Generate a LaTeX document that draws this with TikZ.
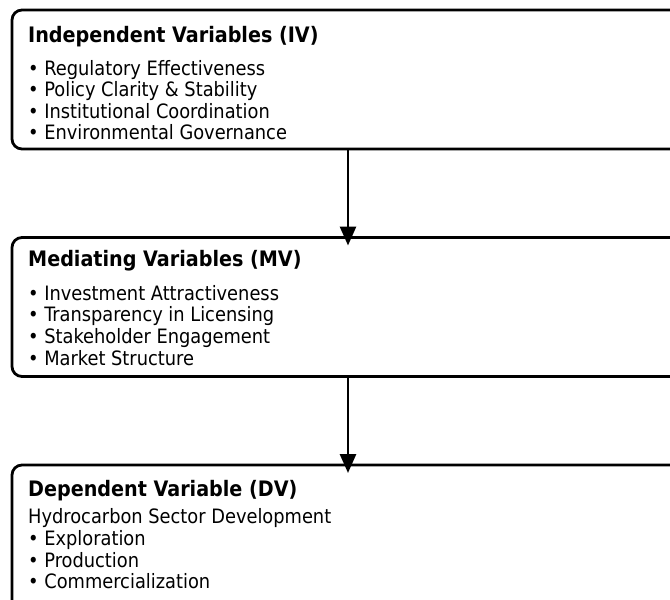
\documentclass[tikz,border=0pt]{standalone}
\usepackage{fontspec}
\setmainfont{DejaVu Sans Condensed}
\usetikzlibrary{arrows.meta}
\begin{document}
\begin{tikzpicture}[x=1pt,y=-1pt,
  box/.style={draw, line width=2.8pt, rounded corners=10pt, minimum width=672pt, minimum height=139pt, anchor=north west, inner sep=0pt, outer sep=0pt},
  ttl/.style={anchor=base west, inner sep=0pt, font=\fontsize{21.3}{21.3}\selectfont\bfseries},
  itm/.style={anchor=base west, inner sep=0pt, font=\fontsize{19.8}{19.8}\selectfont},
  arr/.style={-{Triangle[width=16pt,length=19pt]}, line width=2.8pt, shorten >=-8pt}]
\useasboundingbox (0,0) rectangle (670,600);
\clip (0,0) rectangle (670,600);
\node[box] (iv) at (12,10) {};
\node[box] (mv) at (12,237.5) {};
\node[box, minimum height=200pt] (dv) at (12,465) {};
\node[ttl] (ivt) at (28,42) {Independent Variables (IV)};
\node[itm] (iv1) at (28,75) {• Regulatory Effectiveness};
\node[itm] (iv2) at (28,96.6) {• Policy Clarity \& Stability};
\node[itm] (iv3) at (28,118) {• Institutional Coordination};
\node[itm] (iv4) at (28,139.7) {• Environmental Governance};
\node[ttl] (mvt) at (28,266) {Mediating Variables (MV)};
\node[itm] (mv1) at (28,300) {• Investment Attractiveness};
\node[itm] (mv2) at (28,321.7) {• Transparency in Licensing};
\node[itm] (mv3) at (28,343) {• Stakeholder Engagement};
\node[itm] (mv4) at (28,365) {• Market Structure};
\node[ttl] (dvt) at (28,496) {Dependent Variable (DV)};
\node[itm] (dv0) at (28,523) {Hydrocarbon Sector Development};
\node[itm] (dv1) at (28,545) {• Exploration};
\node[itm] (dv2) at (28,567) {• Production};
\node[itm] (dv3) at (28,588) {• Commercialization};
\draw[arr] (iv.south) -- (mv.north);
\draw[arr] (mv.south) -- (dv.north);
\end{tikzpicture}
\end{document}
